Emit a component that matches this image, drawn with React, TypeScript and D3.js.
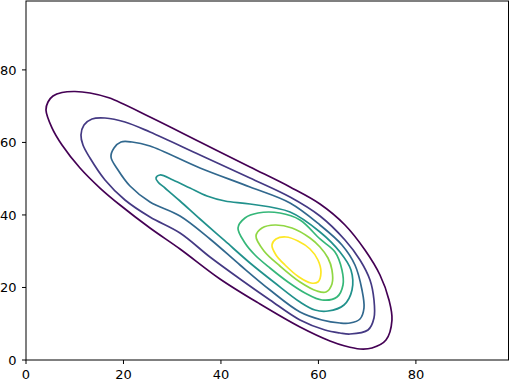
import React from 'react';
import * as d3 from 'd3';

const xTicks = [0, 20, 40, 60, 80];
const yTicks = [0, 20, 40, 60, 80];
const xDomain = [0, 99];
const yDomain = [0, 99];

// contour levels, outermost (lowest density) to innermost
const contour1: [number, number][] = [
  [4.10, 68.94], [4.51, 71.15], [5.54, 72.80], [7.39, 73.77], [10.05, 74.04], [13.13, 73.63],
  [17.00, 72.30], [25.44, 67.01],
  [35.70, 60.12], [45.96, 53.22], [54.17, 47.71], [60.32, 43.02], [65.45, 37.23], [69.55, 30.33],
  [72.63, 23.44], [74.48, 16.55], [75.09, 11.03], [73.86, 5.52], [70.99, 3.31], [68.53, 3.03],
  [65.45, 3.86], [62.37, 5.24], [56.22, 9.10], [48.01, 15.44], [39.80, 22.34], [31.60, 30.61],
  [25.44, 36.40], [19.29, 42.74], [15.18, 47.43], [11.08, 52.95], [7.39, 59.29], [5.33, 64.02],
];
const contour2: [number, number][] = [
  [11.28, 62.05], [11.90, 64.80], [13.54, 66.46], [16.21, 66.73], [20.31, 65.63], [25.44, 62.87],
  [35.70, 56.53], [45.96, 50.19], [54.17, 44.95], [60.32, 39.71], [65.45, 33.09], [68.53, 27.58],
  [70.58, 22.06], [71.40, 16.55], [71.40, 11.58], [70.17, 8.27], [66.48, 7.17], [64.42, 7.45],
  [61.35, 8.27], [56.22, 11.03], [50.06, 16.55], [43.91, 22.34], [37.75, 28.40], [31.60, 35.02],
  [25.44, 39.43], [20.31, 44.12], [16.21, 49.64], [13.13, 55.70], [11.69, 59.29],
];
const contour3: [number, number][] = [
  [17.44, 55.98], [18.06, 58.46], [19.49, 60.12], [21.75, 60.12], [25.44, 59.01], [35.70, 52.95],
  [45.96, 47.71], [54.17, 43.29], [60.32, 37.23], [64.83, 31.71], [67.50, 26.20], [68.94, 19.30],
  [69.35, 14.34], [68.53, 11.31], [66.48, 10.20], [64.42, 10.20], [60.73, 11.03], [56.22, 13.24],
  [50.06, 19.30], [43.91, 26.20], [37.75, 33.37], [31.60, 39.71], [25.44, 43.57], [21.34, 47.98],
  [18.88, 52.39],
];
const contour4: [number, number][] = [
  [26.67, 50.19], [27.49, 51.02], [30.16, 49.64], [33.65, 47.43], [37.14, 45.23], [40.83, 43.85],
  [45.96, 43.02], [54.17, 40.81], [60.32, 35.30], [64.42, 29.78], [66.68, 24.82], [66.89, 19.30],
  [65.24, 15.17], [61.96, 13.51], [59.29, 13.79], [56.22, 15.99], [51.09, 21.23], [45.96, 26.75],
  [40.83, 32.82], [35.70, 38.88], [31.60, 43.85], [28.52, 47.43], [27.08, 49.09],
];
const contour5: [number, number][] = [
  [43.50, 36.40], [44.93, 39.16], [47.60, 40.54], [52.11, 40.54], [56.22, 38.61], [60.32, 33.37],
  [63.40, 29.78], [64.83, 24.82], [65.04, 20.68], [63.81, 17.37], [60.73, 16.55], [57.24, 18.48],
  [53.75, 21.51], [50.06, 25.37], [46.98, 28.96], [44.93, 32.26],
];
const contour6: [number, number][] = [
  [47.19, 34.19], [48.42, 36.40], [51.09, 37.23], [54.58, 36.40], [58.27, 33.64], [60.32, 31.16],
  [61.96, 28.13], [62.78, 24.82], [62.78, 20.96], [61.55, 18.75], [59.70, 19.03], [56.22, 21.51],
  [52.11, 25.92], [48.83, 30.06],
];
const contour7: [number, number][] = [
  [50.47, 31.71], [51.29, 33.37], [53.34, 33.92], [55.81, 32.82], [58.27, 30.61], [59.90, 27.58],
  [60.52, 24.27], [59.90, 21.51], [58.47, 21.23], [56.01, 22.89], [53.14, 26.20], [51.29, 28.96],
];

const contours = [contour1, contour2, contour3, contour4, contour5, contour6, contour7];

export default function App() {
  const W = 510;
  const H = 381;
  const left = 26;
  const right = 508.5;
  const top = 1;
  const bottom = 360;
  const x = d3.scaleLinear().domain(xDomain).range([left, right]);
  const y = d3.scaleLinear().domain(yDomain).range([bottom, top]);
  const line = d3
    .line<[number, number]>()
    .x((d) => x(d[0]))
    .y((d) => y(d[1]))
    .curve(d3.curveCatmullRomClosed.alpha(0.5));
  const font = 'DejaVu Sans';
  const fs = 13;
  return (
    <svg
      width={W}
      height={H}
      style={{ position: 'absolute', left: 0, top: 0, background: '#fff' }}
      fontFamily={font}
    >
      <rect x={0} y={0} width={W} height={H} fill="#fff" />
      {contours.map((c, i) => (
        <path
          key={i}
          d={line(c) || ''}
          fill="none"
          stroke={d3.interpolateViridis(i / (contours.length - 1))}
          strokeWidth={1.7}
          strokeLinejoin="round"
        />
      ))}
      <rect
        x={left}
        y={top}
        width={right - left}
        height={bottom - top}
        fill="none"
        stroke="#000"
        strokeWidth={1}
      />
      {xTicks.map((t) => (
        <g key={'x' + t}>
          <line x1={x(t)} x2={x(t)} y1={bottom} y2={bottom + 4} stroke="#000" strokeWidth={1} />
          <text x={x(t)} y={378.5} textAnchor="middle" fontSize={fs} fill="#000">
            {t}
          </text>
        </g>
      ))}
      {yTicks.map((t) => (
        <g key={'y' + t}>
          <line x1={left - 4} x2={left} y1={y(t)} y2={y(t)} stroke="#000" strokeWidth={1} />
          <text x={16.5} y={y(t) + 4.7} textAnchor="end" fontSize={fs} fill="#000">
            {t}
          </text>
        </g>
      ))}
    </svg>
  );
}
